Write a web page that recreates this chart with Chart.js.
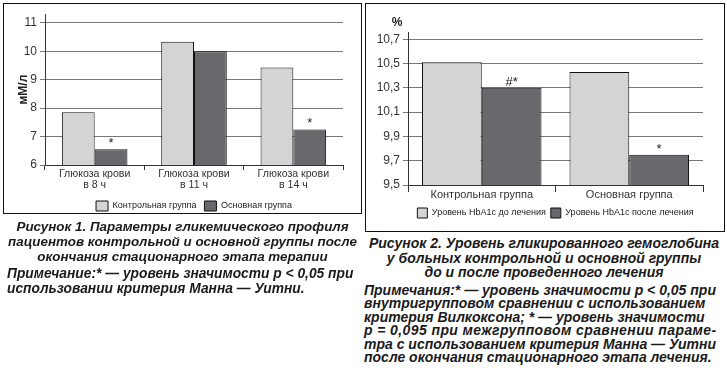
<!DOCTYPE html>
<html>
<head>
<meta charset="utf-8">
<script src="https://cdn.jsdelivr.net/npm/chart.js@4.4.0/dist/chart.umd.min.js"></script>
<style>
  body { margin: 0; width: 727px; height: 371px; background: #fff; position: relative; overflow: hidden;
         font-family: "Liberation Sans", Arial, sans-serif; }
  .box { position: absolute; border: 1px solid #111; }
  .cv { position: absolute; }
  .cap { position: absolute; font-weight: bold; font-style: italic; color: #1b1b1b; font-size: 14px; }
  .cap div { white-space: nowrap; }
</style>
</head>
<body>
<div class="box" style="left:3px;top:3px;width:357px;height:209px"></div>
<div class="box" style="left:365px;top:3px;width:358px;height:227px"></div>
<canvas id="glucose" class="cv" style="left:4px;top:4px" width="357" height="217"></canvas>
<canvas id="hba1c" class="cv" style="left:367px;top:5px" width="355" height="223"></canvas>

<div class="cap" style="left:3px;top:219px;width:359px;text-align:center;line-height:15px;font-size:13.4px">
  <div>Рисунок 1. Параметры гликемического профиля</div>
  <div>пациентов контрольной и основной группы после</div>
  <div>окончания стационарного этапа терапии</div>
</div>
<div class="cap" style="left:7px;top:266px;line-height:15px;font-size:13.8px">
  <div>Примечание:* — уровень значимости р &lt; 0,05 при</div>
  <div>использовании критерия Манна — Уитни.</div>
</div>

<div class="cap" style="left:365px;top:236px;width:358px;text-align:center;line-height:14.5px">
  <div>Рисунок 2. Уровень гликированного гемоглобина</div>
  <div>у больных контрольной и основной группы</div>
  <div>до и после проведенного лечения</div>
</div>
<div class="cap" style="left:364px;top:284px;line-height:13.4px">
  <div>Примечания:* — уровень значимости р &lt; 0,05 при</div>
  <div>внутригрупповом сравнении с использованием</div>
  <div>критерия Вилкоксона; * — уровень значимости</div>
  <div style="letter-spacing:0.4px">р = 0,095 при межгрупповом сравнении параме-</div>
  <div>тра с использованием критерия Манна — Уитни</div>
  <div>после окончания стационарного этапа лечения.</div>
</div>

<script>
// figure 1: glucose profile
const glucoseCategories = [['Глюкоза крови', 'в 8 ч'], ['Глюкоза крови', 'в 11 ч'], ['Глюкоза крови', 'в 14 ч']];
const glucoseControl = [7.85, 10.33, 9.43];
const glucoseMain = [6.55, 10.0, 7.25];
const glucoseMainMarks = ['*', '', '*'];
const glucoseTicks = [6, 7, 8, 9, 10, 11];

// figure 2: HbA1c
const hbCategories = ['Контрольная группа', 'Основная группа'];
const hbBefore = [10.51, 10.43];
const hbAfter = [10.30, 9.75];
const hbAfterMarks = ['#*', '*'];
const hbTicks = [9.5, 9.7, 9.9, 10.1, 10.3, 10.5, 10.7];

const LIGHT = '#d4d4d4';
const DARK = '#69696d';
const FONT = '"Liberation Sans", Arial, sans-serif';

// asterisks over bars and the unit label on top of the axis
const marksPlugin = {
  id: 'marks',
  afterDatasetsDraw(chart, args, opts) {
    const ctx = chart.ctx;
    const meta = chart.getDatasetMeta(1);
    ctx.save();
    ctx.fillStyle = '#222';
    ctx.textAlign = 'center';
    ctx.textBaseline = 'alphabetic';
    ctx.font = '13px ' + FONT;
    opts.marks.forEach((m, i) => {
      if (!m) return;
      const bar = meta.data[i];
      ctx.fillText(m, bar.x, bar.y - 2);
    });
    if (opts.unit) {
      ctx.font = 'bold 12px ' + FONT;
      ctx.textBaseline = 'middle';
      ctx.fillText(opts.unit, chart.chartArea.left - 11, chart.chartArea.top - 9);
    }
    ctx.restore();
  }
};

function commaTick(v) {
  return Number.isInteger(v) ? String(v) : v.toFixed(1).replace('.', ',');
}

function makeChart(id, cfg) {
  return new Chart(document.getElementById(id), {
    type: 'bar',
    data: {
      labels: cfg.labels,
      datasets: cfg.series.map((s, i) => ({
        label: s.label,
        data: s.data,
        backgroundColor: i === 0 ? LIGHT : DARK,
        borderColor: '#111',
        borderWidth: 1,
        borderSkipped: 'bottom',
        categoryPercentage: cfg.catPct,
        barPercentage: 1
      }))
    },
    options: {
      responsive: false,
      animation: false,
      layout: { padding: cfg.padding },
      plugins: {
        tooltip: { enabled: false },
        legend: {
          position: 'bottom',
          fullSize: false,
          labels: {
            boxWidth: cfg.box[0], boxHeight: cfg.box[1], padding: cfg.legendPad,
            color: '#222', font: { family: FONT, size: cfg.legendSize }
          }
        },
        marks: { marks: cfg.marks, unit: cfg.unit }
      },
      scales: {
        x: {
          afterFit: s => { s.height = cfg.xHeight; },
          grid: { offset: true, drawOnChartArea: false, tickLength: cfg.xTick, color: '#333' },
          border: { color: '#333' },
          ticks: { color: '#333', padding: cfg.xPad, maxRotation: 0,
                   font: { family: FONT, size: cfg.xSize, lineHeight: cfg.xLine } }
        },
        y: {
          min: cfg.min, max: cfg.max,
          afterFit: s => { s.width = 41; },
          afterBuildTicks: s => { s.ticks = cfg.ticks.map(v => ({ value: v })); },
          grid: { color: '#777', tickLength: 5 },
          border: { color: '#333' },
          title: cfg.title ? { display: true, text: cfg.title, color: '#222',
                               padding: { top: 12, bottom: 0 },
                               font: { family: FONT, size: 12, weight: 'bold' } } : { display: false },
          ticks: { color: '#333', padding: 3, callback: commaTick,
                   font: { family: FONT, size: 12 } }
        }
      }
    },
    plugins: [marksPlugin]
  });
}

makeChart('glucose', {
  labels: glucoseCategories,
  series: [
    { label: 'Контрольная группа', data: glucoseControl },
    { label: 'Основная группа', data: glucoseMain }
  ],
  marks: glucoseMainMarks,
  ticks: glucoseTicks,
  min: 6, max: 11.3,
  catPct: 0.66,
  padding: { left: 0, right: 18, top: 6, bottom: 0 },
  xHeight: 28, xTick: 5, xPad: -2, xLine: 1.1, xSize: 10.6,
  box: [12, 10], legendSize: 9, legendPad: 8,
  title: 'мМ/л'
});

makeChart('hba1c', {
  labels: hbCategories,
  series: [
    { label: 'Уровень HbA1c до лечения', data: hbBefore },
    { label: 'Уровень HbA1c после лечения', data: hbAfter }
  ],
  marks: hbAfterMarks,
  ticks: hbTicks,
  min: 9.5, max: 10.76,
  catPct: 0.81,
  padding: { left: 0, right: 19, top: 27, bottom: 0 },
  xHeight: 18, xTick: 7, xPad: -4, xLine: 1.2, xSize: 11,
  box: [10, 10], legendSize: 9, legendPad: 5,
  unit: '%'
});
</script>
</body>
</html>
